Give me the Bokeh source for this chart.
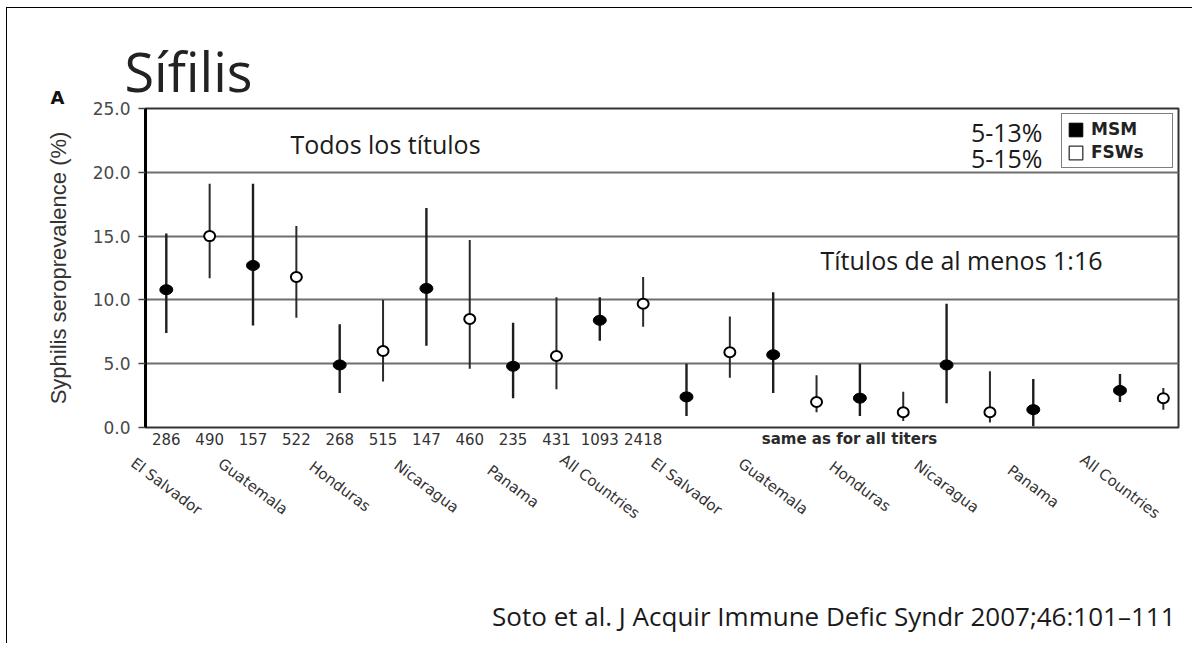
import math
from bokeh.plotting import figure
from bokeh.models import Range1d, FixedTicker, ColumnDataSource, NumeralTickFormatter, Legend, LegendItem
from bokeh.core.properties import value
from bokeh.embed import file_html
from bokeh.resources import INLINE

# ---------------- data ----------------
countries = ["El Salvador", "Guatemala", "Honduras", "Nicaragua", "Panama", "All Countries"]
sample_sizes = ["286", "490", "157", "522", "268", "515", "147", "460", "235", "431", "1093", "2418"]

# all titers
msm_all = [10.8, 12.7, 4.9, 10.9, 4.8, 8.4]
msm_all_lo = [7.4, 8.0, 2.7, 6.4, 2.3, 6.8]
msm_all_hi = [15.2, 19.1, 8.1, 17.2, 8.2, 10.2]
fsw_all = [15.0, 11.8, 6.0, 8.5, 5.6, 9.7]
fsw_all_lo = [11.7, 8.6, 3.6, 4.6, 3.0, 7.9]
fsw_all_hi = [19.1, 15.8, 10.0, 14.7, 10.2, 11.8]

# titers of at least 1:16
msm_16 = [2.4, 5.7, 2.3, 4.9, 1.4, 2.9]
msm_16_lo = [0.9, 2.7, 0.9, 1.9, 0.1, 2.0]
msm_16_hi = [5.0, 10.6, 5.0, 9.7, 3.8, 4.2]
fsw_16 = [5.9, 2.0, 1.2, 1.2, None, 2.3]
fsw_16_lo = [3.9, 1.2, 0.5, 0.4, None, 1.4]
fsw_16_hi = [8.7, 4.1, 2.8, 4.4, None, 3.1]

y_ticks = [0, 5, 10, 15, 20, 25]

# ---------------- geometry (reference page pixels) ----------------
OX, OY = 7, 8                      # canvas origin on the page (margin + border)
W, H = 1186, 636
FL, FR, FT, FB = 145, 1178, 108, 427
XMIN, XMAX = -0.48, 23.35
YMIN, YMAX = 0.0, 25.0


def px_of(x):
    return FL + (x - XMIN) / (XMAX - XMIN) * (FR - FL)


def py_of(y):
    return FB - (y - YMIN) / (YMAX - YMIN) * (FB - FT)


def dx(px):
    return XMIN + (px - FL) / (FR - FL) * (XMAX - XMIN)


n = len(countries)
msm_x, msm_y, msm_lo, msm_hi = [], [], [], []
fsw_x, fsw_y, fsw_lo, fsw_hi = [], [], [], []
for g, (mv, ml, mh, fv, fl, fh) in enumerate([
        (msm_all, msm_all_lo, msm_all_hi, fsw_all, fsw_all_lo, fsw_all_hi),
        (msm_16, msm_16_lo, msm_16_hi, fsw_16, fsw_16_lo, fsw_16_hi)]):
    for c in range(n):
        base = g * 2 * n + 2 * c
        msm_x.append(base); msm_y.append(mv[c]); msm_lo.append(ml[c]); msm_hi.append(mh[c])
        if fv[c] is not None:
            fsw_x.append(base + 1); fsw_y.append(fv[c]); fsw_lo.append(fl[c]); fsw_hi.append(fh[c])

msm_src = ColumnDataSource(dict(x=msm_x, y=msm_y, lo=msm_lo, hi=msm_hi))
fsw_src = ColumnDataSource(dict(x=fsw_x, y=fsw_y, lo=fsw_lo, hi=fsw_hi))

p = figure(width=W, height=H, output_backend="svg", toolbar_location=None,
           x_range=Range1d(XMIN, XMAX), y_range=Range1d(YMIN, YMAX),
           min_border_left=FL - OX, min_border_right=W - (FR - OX),
           min_border_top=FT - OY, min_border_bottom=H - (FB - OY))
p.styles = {"margin-left": "6px", "margin-top": "7px",
            "border-top": "1px solid #000", "border-left": "1px solid #000"}
p.background_fill_color = "white"
p.border_fill_color = "white"
p.outline_line_color = "#333333"
p.outline_line_width = 2

p.xaxis.visible = False
p.xgrid.visible = False
p.ygrid.ticker = FixedTicker(ticks=y_ticks)
p.ygrid.grid_line_color = "#6e6e6e"
p.ygrid.grid_line_width = 2

ya = p.yaxis[0]
ya.ticker = FixedTicker(ticks=y_ticks)
ya.formatter = NumeralTickFormatter(format="0.0")
ya.axis_line_color = "black"
ya.axis_line_width = 3
ya.major_tick_out = 7
ya.major_tick_in = 0
ya.major_tick_line_color = "#444444"
ya.major_tick_line_width = 1.5
ya.minor_tick_line_color = None
ya.major_label_text_font = "DejaVu Sans"
ya.major_label_text_font_size = "17px"
ya.major_label_text_color = "#4a4a4a"
ya.major_label_standoff = 8
ya.axis_label = "Syphilis seroprevalence (%)"
ya.axis_label_text_font = "Liberation Sans"
ya.axis_label_text_font_size = "22px"
ya.axis_label_text_font_style = "normal"
ya.axis_label_text_color = "#333333"
ya.axis_label_standoff = 19

# legend swatch renderers (zero-size, hidden under the markers)
r_msm = p.rect(x="x", y="y", width=0, height=0, source=msm_src, fill_color="black", line_color="black")
r_fsw = p.rect(x="x", y="y", width=0, height=0, source=fsw_src, fill_color="white",
               line_color="#333333", line_width=1.3)

# error bars
p.segment(x0="x", y0="lo", x1="x", y1="hi", source=msm_src, line_color="#1e1e1e", line_width=2.4)
p.segment(x0="x", y0="lo", x1="x", y1="hi", source=fsw_src, line_color="#2a2a2a", line_width=2.0)
# markers
p.ellipse(x="x", y="y", width=13, height=10, width_units="screen", height_units="screen",
          source=msm_src, fill_color="black", line_color="black")
p.ellipse(x="x", y="y", width=11, height=10, width_units="screen", height_units="screen",
          source=fsw_src, fill_color="white", line_color="black", line_width=2)

leg = Legend(items=[LegendItem(label="MSM", renderers=[r_msm]), LegendItem(label="FSWs", renderers=[r_fsw])],
             location="top_right")
leg.border_line_color = "black"
leg.border_line_width = 1.5
leg.background_fill_color = "white"
leg.background_fill_alpha = 1
leg.label_text_font = "DejaVu Sans"
leg.label_text_font_style = "bold"
leg.label_text_font_size = "17px"
leg.label_text_color = "#222222"
leg.glyph_width = 17
leg.glyph_height = 17
leg.label_height = 18
leg.label_width = 76
leg.label_standoff = 7
leg.spacing = 3
leg.padding = 5
leg.margin = 5
p.add_layout(leg)

TXT = "#1a1a1a"
Y_LOW = 0.5     # anchors just inside the frame, texts pushed outward by pixel offsets
Y_TOP = 24.5


def add_text(xs, y_anchor, texts, target_py, font, size, align="left", baseline="middle",
             angle=0.0, style="normal", color=TXT, x_off=0.0):
    y_off = target_py - py_of(y_anchor)
    p.text(x=xs, y=[y_anchor] * len(xs), text=texts, x_offset=x_off, y_offset=y_off,
           angle=angle, text_font=value(font), text_font_size=size, text_font_style=style,
           text_align=align, text_baseline=baseline, text_color=color, level="overlay")


# sample sizes under the all-titers group
add_text(list(range(len(sample_sizes))), Y_LOW, sample_sizes, 438, "DejaVu Sans", "15px",
         align="center", color="#333333")
add_text([dx(849)], Y_LOW, ["same as for all titers"], 438, "DejaVu Sans", "15px",
         align="center", style="bold", color="#2a2a2a")

# rotated country labels, centred under each MSM position
cx = [g * 2 * n + 2 * c for g in range(2) for c in range(n)]
add_text(cx, Y_LOW, countries * 2, 486, "DejaVu Sans", "15px", align="center",
         angle=-math.radians(37), color="#333333")

# slide texts
add_text([0], Y_TOP, ["Sífilis"], 70, "Open Sans", "54px",
         color="#222222", x_off=124 - px_of(0))
add_text([0], Y_TOP, ["A"], 97, "DejaVu Sans", "18px", align="center", style="bold",
         color="#111111", x_off=57 - px_of(0))
add_text([dx(290)], 22.0, ["Todos los títulos"], 143, "Open Sans", "25px")
add_text([dx(820)], 13.0, ["Títulos de al menos 1:16"], 259, "Open Sans", "25px")
add_text([dx(1042)], 22.0, ["5-13%"], 131, "Open Sans", "25px", align="right")
add_text([dx(1042)], 22.0, ["5-15%"], 157, "Open Sans", "25px", align="right")
add_text([dx(1175)], Y_LOW, ["Soto et al. J Acquir Immune Defic Syndr 2007;46:101\u2013111"], 615,
         "Open Sans", "26px", align="right")

open("out.html", "w").write(file_html(p, INLINE))
